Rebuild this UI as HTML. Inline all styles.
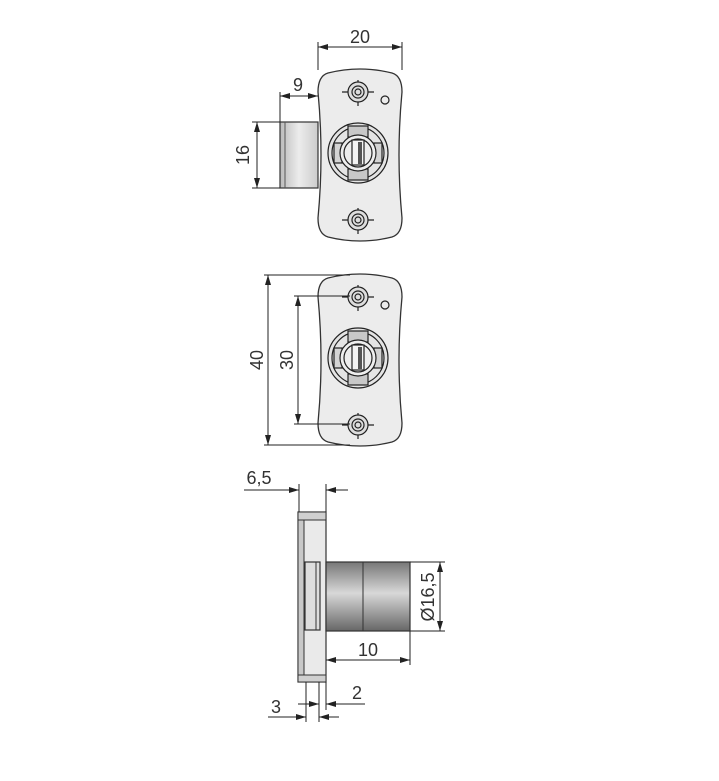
<!DOCTYPE html>
<html><head><style>
html,body{margin:0;padding:0;background:#fff;}
svg{display:block;}
text{font-family:"Liberation Sans",sans-serif;font-size:18px;fill:#333;}
</style></head><body>
<svg width="719" height="781" viewBox="0 0 719 781" xmlns="http://www.w3.org/2000/svg">
<defs>
<marker id="a" markerWidth="10" markerHeight="6" refX="10" refY="3" orient="auto-start-reverse" markerUnits="userSpaceOnUse"><path d="M0,0 L10,3 L0,6 z" fill="#222"/></marker>
<linearGradient id="cyl" x1="0" y1="0" x2="0" y2="1">
<stop offset="0" stop-color="#777"/><stop offset="0.45" stop-color="#d8d8d8"/><stop offset="1" stop-color="#666"/></linearGradient>
<linearGradient id="cyl2" x1="0" y1="0" x2="1" y2="0">
<stop offset="0" stop-color="#bbb"/><stop offset="0.5" stop-color="#ececec"/><stop offset="1" stop-color="#ccc"/></linearGradient>
<g id="plate">
<path d="M328,3 Q360,-5 392,3 Q402,6 402,22 Q396,85 402,148 Q402,164 392,167 Q360,175 328,167 Q318,164 318,148 Q324,85 318,22 Q318,6 328,3 z" fill="#ececec" stroke="#333" stroke-width="1.3"/>
<g stroke="#222" fill="none" stroke-width="1.2">
<line x1="342" y1="22" x2="374" y2="22"/><line x1="358" y1="10" x2="358" y2="36"/>
<circle cx="358" cy="22" r="10" fill="#ddd"/><circle cx="358" cy="22" r="6"/><circle cx="358" cy="22" r="3"/>
<line x1="342" y1="150" x2="374" y2="150"/><line x1="358" y1="138" x2="358" y2="164"/>
<circle cx="358" cy="150" r="10" fill="#ddd"/><circle cx="358" cy="150" r="6"/><circle cx="358" cy="150" r="3"/>
<circle cx="385" cy="30" r="4"/>
<circle cx="358" cy="83" r="30" fill="#e4e4e4"/>
<circle cx="358" cy="83" r="26"/>
<rect x="348" y="56" width="20" height="11" fill="#c8c8c8"/>
<rect x="348" y="99" width="20" height="11" fill="#c8c8c8"/>
<rect x="334" y="73" width="8" height="20" fill="#d4d4d4"/>
<rect x="374" y="73" width="8" height="20" fill="#d4d4d4"/>
<circle cx="358" cy="83" r="18" fill="#eee"/>
<circle cx="358" cy="83" r="14"/>
<rect x="352" y="70" width="12" height="25" fill="#f4f4f4"/>
<rect x="358" y="72" width="4" height="22" fill="#555" stroke="none"/>
</g>
</g>
</defs>

<!-- top view -->
<rect x="280" y="122" width="38" height="66" fill="url(#cyl2)" stroke="#333" stroke-width="1.2"/>
<line x1="285" y1="122" x2="285" y2="188" stroke="#555"/>
<use href="#plate" transform="translate(0,70)"/>
<g stroke="#222" stroke-width="1" fill="none">
<line x1="318" y1="42" x2="318" y2="70"/><line x1="402" y1="42" x2="402" y2="70"/>
<line x1="318" y1="47" x2="402" y2="47" marker-start="url(#a)" marker-end="url(#a)"/>
<line x1="280" y1="92" x2="280" y2="122"/>
<line x1="280" y1="96" x2="318" y2="96" marker-start="url(#a)" marker-end="url(#a)"/>
<line x1="252" y1="122" x2="280" y2="122"/><line x1="252" y1="188" x2="280" y2="188"/>
<line x1="257" y1="122" x2="257" y2="188" marker-start="url(#a)" marker-end="url(#a)"/>
</g>
<text x="360" y="43" text-anchor="middle">20</text>
<text x="298" y="91" text-anchor="middle">9</text>
<text transform="translate(249,155) rotate(-90)" text-anchor="middle">16</text>

<!-- middle view -->
<use href="#plate" transform="translate(0,275)"/>
<g stroke="#222" stroke-width="1" fill="none">
<line x1="264" y1="275" x2="350" y2="275"/><line x1="264" y1="445" x2="350" y2="445"/>
<line x1="268" y1="275" x2="268" y2="445" marker-start="url(#a)" marker-end="url(#a)"/>
<line x1="294" y1="296" x2="350" y2="296"/><line x1="294" y1="424" x2="350" y2="424"/>
<line x1="298" y1="296" x2="298" y2="424" marker-start="url(#a)" marker-end="url(#a)"/>
</g>
<text transform="translate(263,360) rotate(-90)" text-anchor="middle">40</text>
<text transform="translate(293,360) rotate(-90)" text-anchor="middle">30</text>

<!-- bottom view -->
<rect x="298" y="512" width="28" height="170" fill="#eaeaea" stroke="#333" stroke-width="1.2"/>
<rect x="298" y="512" width="6" height="170" fill="#c8c8c8" stroke="#333" stroke-width="1"/>
<rect x="298" y="512" width="28" height="8" fill="#d0d0d0" stroke="#333" stroke-width="1"/>
<rect x="298" y="675" width="28" height="7" fill="#d0d0d0" stroke="#333" stroke-width="1"/>
<rect x="305" y="562" width="15" height="68" fill="#ddd" stroke="#333" stroke-width="1.2"/>
<line x1="316" y1="562" x2="316" y2="630" stroke="#333"/>
<rect x="326" y="562" width="84" height="69" fill="url(#cyl)" stroke="#333" stroke-width="1.2"/>
<line x1="363" y1="562" x2="363" y2="631" stroke="#333"/>
<g stroke="#222" stroke-width="1" fill="none">
<line x1="299" y1="484" x2="299" y2="512"/><line x1="326" y1="484" x2="326" y2="512"/>
<line x1="244" y1="490" x2="299" y2="490" marker-end="url(#a)"/>
<line x1="348" y1="490" x2="326" y2="490" marker-end="url(#a)"/>
<line x1="410" y1="562" x2="445" y2="562"/><line x1="410" y1="631" x2="445" y2="631"/>
<line x1="440" y1="562" x2="440" y2="631" marker-start="url(#a)" marker-end="url(#a)"/>
<line x1="410" y1="631" x2="410" y2="665"/>
<line x1="326" y1="660" x2="410" y2="660" marker-start="url(#a)" marker-end="url(#a)"/>
<line x1="306" y1="682" x2="306" y2="722"/><line x1="319" y1="682" x2="319" y2="722"/><line x1="326" y1="682" x2="326" y2="710"/>
<line x1="268" y1="717" x2="306" y2="717" marker-end="url(#a)"/>
<line x1="339" y1="717" x2="319" y2="717" marker-end="url(#a)"/>
<line x1="298" y1="704" x2="319" y2="704" marker-end="url(#a)"/>
<line x1="365" y1="704" x2="326" y2="704" marker-end="url(#a)"/>
</g>
<text x="259" y="484" text-anchor="middle">6,5</text>
<text transform="translate(434,597) rotate(-90)" text-anchor="middle">Ø16,5</text>
<text x="368" y="656" text-anchor="middle">10</text>
<text x="357" y="699" text-anchor="middle">2</text>
<text x="276" y="713" text-anchor="middle">3</text>
</svg>
</body></html>
